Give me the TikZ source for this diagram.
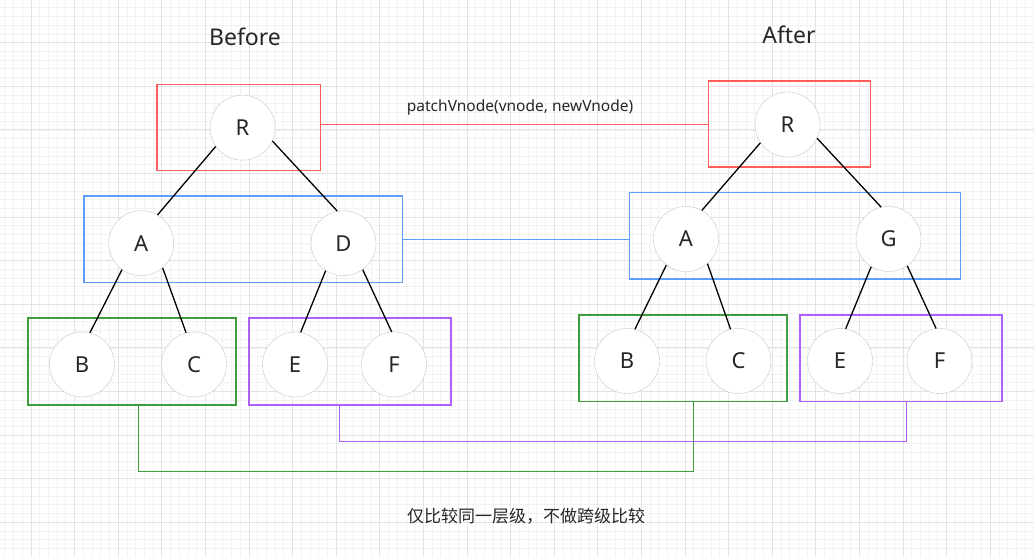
\documentclass[tikz,border=0pt]{standalone}
\usepackage{fontspec}
\setmainfont{Noto Sans}
\newfontfamily\cjk{Noto Sans CJK SC}
\definecolor{lvred}{HTML}{FF5C5C}
\definecolor{lvblue}{HTML}{5CA0FF}
\definecolor{lvgreen}{HTML}{3E9E3E}
\definecolor{lvpurple}{HTML}{B060FF}
\definecolor{ink}{HTML}{262626}
\tikzset{
  vnode/.style={circle,draw=black!22,fill=white,minimum size=65pt,inner sep=0pt,
    text=ink,font=\fontsize{22}{25}\selectfont},
  levelbox/.style={draw=#1,line width=1.2pt,inner sep=0pt},
  edge/.style={line width=1.3pt,black},
  gridminor/.style={draw=black!5,line width=0.8pt},
  gridmajor/.style={draw=black!11,line width=0.9pt}
}
\begin{document}
\begin{tikzpicture}[x=1pt,y=-1pt]
    \useasboundingbox (0,0) rectangle (1034,557);
    \clip (0,0) rectangle (1034,557);
    \fill[white] (0,0) rectangle (1034,557);
    % background grid
    \foreach \i in {0,...,119} \draw[gridminor] ({4.84+8.72*\i},0) -- ({4.84+8.72*\i},557);
    \foreach \j in {0,...,64} \draw[gridminor] (0,{-0.9+8.72*\j}) -- (1034,{-0.9+8.72*\j});
    \foreach \i in {0,...,23} \draw[gridmajor] ({-12.6+43.6*\i},0) -- ({-12.6+43.6*\i},557);
    \foreach \j in {0,...,12} \draw[gridmajor] (0,{-0.9+43.6*\j}) -- (1034,{-0.9+43.6*\j});

    \node[text=ink,font=\fontsize{23}{27}\selectfont] (before) at (245,37) {Before};
    \node[text=ink,font=\fontsize{23}{27}\selectfont] (after) at (789,35) {After};

    % one box per level
    \node[levelbox=lvred,minimum width=163.7pt,minimum height=86pt] (redL) at (238.8,127.3) {};
    \node[levelbox=lvblue,minimum width=318.7pt,minimum height=86.3pt] (blueL) at (243.3,239.2) {};
    \node[levelbox=lvgreen,minimum width=208pt,minimum height=87pt] (greenL) at (132,361.5) {};
    \node[levelbox=lvpurple,minimum width=202pt,minimum height=87pt] (purpleL) at (350,361.5) {};
    \node[levelbox=lvred,minimum width=162pt,minimum height=86pt] (redR) at (789.7,124) {};
    \node[levelbox=lvblue,minimum width=331pt,minimum height=86.7pt] (blueR) at (795.2,235.7) {};
    \node[levelbox=lvgreen,minimum width=208pt,minimum height=86.5pt] (greenR) at (683,358.3) {};
    \node[levelbox=lvpurple,minimum width=202pt,minimum height=86.5pt] (purpleR) at (901,358.3) {};

    % level to level
    \draw[lvred,line width=1pt] (redL.east |- redR.west) -- node[pos=0.514,above=5pt,text=ink,font=\fontsize{15.5}{18}\selectfont] (patch) {patchVnode(vnode, newVnode)} (redR.west);
    \draw[lvblue,line width=1pt] (blueL.east) -- (blueL.east -| blueR.west);
    \draw[lvgreen,line width=1pt] ([xshift=6pt]greenL.south) -- ++(0,66) -| ([xshift=10.7pt]greenR.south);
    \draw[lvpurple,line width=1pt] ([xshift=-11pt]purpleL.south) -- ++(0,36) -| ([xshift=5pt]purpleR.south);

    % old tree
    \node[vnode] (R1) at (242.5,127.7) {R};
    \node[vnode] (A1) at (141.2,243.2) {A};
    \node[vnode] (D1) at (343.5,243.2) {D};
    \node[vnode] (B1) at (82,364.5) {B};
    \node[vnode] (C1) at (194,364.5) {C};
    \node[vnode] (E1) at (295,364.5) {E};
    \node[vnode] (F1) at (394,364.5) {F};
    \draw[edge] (R1.215) -- (A1.60);
    \draw[edge] (R1.336) -- (D1.101);
    \draw[edge] (A1.234) -- (B1.76);
    \draw[edge] (A1.311) -- (C1.104);
    \draw[edge] (D1.237) -- (E1.80);
    \draw[edge] (D1.306) -- (F1.94);

    % new tree
    \node[vnode] (R2) at (787.5,124.5) {R};
    \node[vnode] (A2) at (686,239) {A};
    \node[vnode] (G2) at (888.5,239) {G};
    \node[vnode] (B2) at (627,361) {B};
    \node[vnode] (C2) at (738.5,361) {C};
    \node[vnode] (E2) at (840,361) {E};
    \node[vnode] (F2) at (939.5,361) {F};
    \draw[edge] (R2.214) -- (A2.61);
    \draw[edge] (R2.335) -- (G2.103);
    \draw[edge] (A2.233) -- (B2.76);
    \draw[edge] (A2.311) -- (C2.104);
    \draw[edge] (G2.238) -- (E2.80);
    \draw[edge] (G2.305) -- (F2.96);

    \node[text=ink,font=\cjk\fontsize{17}{20}\selectfont] (note) at (526,516) {仅比较同一层级，不做跨级比较};
\end{tikzpicture}
\end{document}
